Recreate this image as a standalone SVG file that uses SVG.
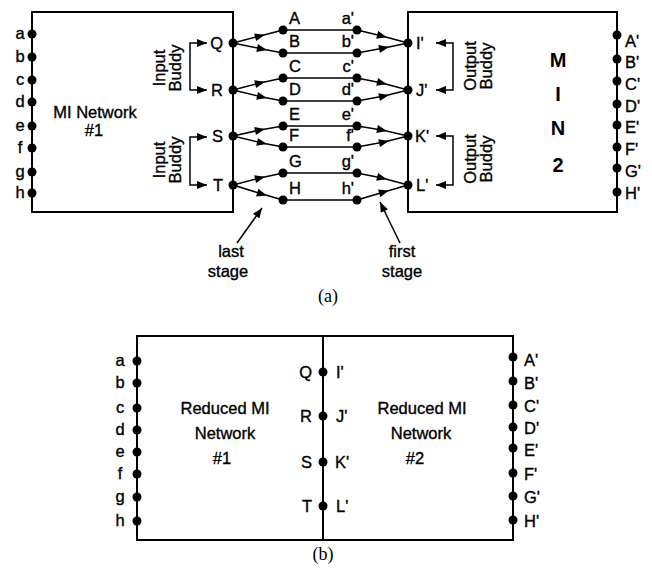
<svg xmlns="http://www.w3.org/2000/svg" width="652" height="568" viewBox="0 0 652 568">
<defs>
<style>
.box{fill:none;stroke:#000;stroke-width:2}
.ln{fill:none;stroke:#000;stroke-width:1.5}
.t{font-family:"Liberation Sans","DejaVu Sans",sans-serif;font-size:16.5px;fill:#000;stroke:#000;stroke-width:0.35}
.b{font-family:"Liberation Sans","DejaVu Sans",sans-serif;font-size:20px;font-weight:bold;fill:#000;text-anchor:middle}
.s{font-family:"Liberation Serif","DejaVu Serif",serif;font-size:18px;fill:#000;text-anchor:middle}
.m{text-anchor:middle}
.e{text-anchor:end}
circle{fill:#000}
</style>
<marker id="mid" viewBox="0 0 10 8" refX="5" refY="4" markerWidth="11" markerHeight="8" markerUnits="userSpaceOnUse" orient="auto"><path d="M0,0 L10,4 L0,8 z" fill="#000"/></marker>
<marker id="end" viewBox="0 0 10 8" refX="10" refY="4" markerWidth="11" markerHeight="8" markerUnits="userSpaceOnUse" orient="auto"><path d="M0,0 L10,4 L0,8 z" fill="#000"/></marker>
</defs>

<!-- Part (a) -->
<g id="mi1">
<rect class="box" x="32" y="12" width="201" height="200"/>
<circle cx="32" cy="34" r="4.5"/><circle cx="32" cy="57" r="4.5"/><circle cx="32" cy="80" r="4.5"/><circle cx="32" cy="102" r="4.5"/>
<circle cx="32" cy="126" r="4.5"/><circle cx="32" cy="148" r="4.5"/><circle cx="32" cy="172" r="4.5"/><circle cx="32" cy="193" r="4.5"/>
<text class="t m" x="20" y="39">a</text><text class="t m" x="20" y="62">b</text><text class="t m" x="20" y="85">c</text><text class="t m" x="20" y="107">d</text>
<text class="t m" x="20" y="131">e</text><text class="t m" x="20" y="153">f</text><text class="t m" x="20" y="177">g</text><text class="t m" x="20" y="198">h</text>
<text class="t m" x="95" y="118">MI Network</text>
<text class="t m" x="94" y="136">#1</text>
<circle cx="233" cy="43" r="4.5"/><circle cx="233" cy="90" r="4.5"/><circle cx="233" cy="136" r="4.5"/><circle cx="233" cy="185" r="4.5"/>
<text class="t e" x="223" y="49">Q</text><text class="t e" x="223" y="96">R</text><text class="t e" x="223" y="142">S</text><text class="t e" x="223" y="191">T</text>
<path class="ln" d="M205,43 H190 V90 H205" />
<path class="ln" d="M200,43 H207" marker-end="url(#end)"/>
<path class="ln" d="M200,90 H207" marker-end="url(#end)"/>
<path class="ln" d="M205,137 H190 V185 H205" />
<path class="ln" d="M200,137 H207" marker-end="url(#end)"/>
<path class="ln" d="M200,185 H207" marker-end="url(#end)"/>
<text class="t m" transform="translate(165,68) rotate(-90)">Input</text>
<text class="t m" transform="translate(181,68) rotate(-90)">Buddy</text>
<text class="t m" transform="translate(165,160) rotate(-90)">Input</text>
<text class="t m" transform="translate(181,160) rotate(-90)">Buddy</text>
</g>

<g id="min2">
<rect class="box" x="408" y="12" width="209" height="200"/>
<circle cx="408" cy="43" r="4.5"/><circle cx="408" cy="90" r="4.5"/><circle cx="408" cy="136" r="4.5"/><circle cx="408" cy="185" r="4.5"/>
<text class="t" x="416" y="49">I'</text><text class="t" x="416" y="96">J'</text><text class="t" x="415" y="142">K'</text><text class="t" x="416" y="191">L'</text>
<path class="ln" d="M440,43 H453 V90 H440"/>
<path class="ln" d="M444,43 H436" marker-end="url(#end)"/>
<path class="ln" d="M444,90 H436" marker-end="url(#end)"/>
<path class="ln" d="M440,136 H453 V185 H440"/>
<path class="ln" d="M444,136 H436" marker-end="url(#end)"/>
<path class="ln" d="M444,185 H436" marker-end="url(#end)"/>
<text class="t m" transform="translate(476,66) rotate(-90)">Output</text>
<text class="t m" transform="translate(492,66) rotate(-90)">Buddy</text>
<text class="t m" transform="translate(476,159) rotate(-90)">Output</text>
<text class="t m" transform="translate(492,159) rotate(-90)">Buddy</text>
<text class="b" x="558" y="67">M</text>
<text class="b" x="558" y="101">I</text>
<text class="b" x="558" y="135">N</text>
<text class="b" x="558" y="172">2</text>
<circle cx="617" cy="35" r="4.5"/><circle cx="617" cy="59" r="4.5"/><circle cx="617" cy="81" r="4.5"/><circle cx="617" cy="104" r="4.5"/>
<circle cx="617" cy="125" r="4.5"/><circle cx="617" cy="147" r="4.5"/><circle cx="617" cy="168" r="4.5"/><circle cx="617" cy="192" r="4.5"/>
<text class="t" x="625" y="47">A'</text><text class="t" x="625" y="68">B'</text><text class="t" x="625" y="90">C'</text><text class="t" x="625" y="112">D'</text>
<text class="t" x="625" y="133">E'</text><text class="t" x="625" y="155">F'</text><text class="t" x="625" y="177">G'</text><text class="t" x="625" y="199">H'</text>
</g>

<g id="stages">
<circle cx="283" cy="30" r="4.5"/><circle cx="283" cy="53" r="4.5"/><circle cx="283" cy="78" r="4.5"/><circle cx="283" cy="101" r="4.5"/>
<circle cx="283" cy="126" r="4.5"/><circle cx="283" cy="147" r="4.5"/><circle cx="283" cy="173" r="4.5"/><circle cx="283" cy="200" r="4.5"/>
<circle cx="357" cy="30" r="4.5"/><circle cx="357" cy="53" r="4.5"/><circle cx="357" cy="78" r="4.5"/><circle cx="357" cy="101" r="4.5"/>
<circle cx="357" cy="126" r="4.5"/><circle cx="357" cy="147" r="4.5"/><circle cx="357" cy="173" r="4.5"/><circle cx="357" cy="200" r="4.5"/>
<text class="t" x="289" y="24">A</text><text class="t" x="289" y="47">B</text><text class="t" x="289" y="72">C</text><text class="t" x="289" y="95">D</text>
<text class="t" x="289" y="120">E</text><text class="t" x="289" y="141">F</text><text class="t" x="289" y="167">G</text><text class="t" x="289" y="194">H</text>
<text class="t e" x="354" y="24">a'</text><text class="t e" x="354" y="47">b'</text><text class="t e" x="354" y="72">c'</text><text class="t e" x="354" y="95">d'</text>
<text class="t e" x="354" y="120">e'</text><text class="t e" x="354" y="141">f'</text><text class="t e" x="354" y="167">g'</text><text class="t e" x="354" y="194">h'</text>
</g>

<g id="connectors">
<path class="ln" d="M233,43 L260,36 L283,30" marker-mid="url(#mid)"/>
<path class="ln" d="M233,43 L262,49 L283,53" marker-mid="url(#mid)"/>
<path class="ln" d="M233,90 L260,83 L283,78" marker-mid="url(#mid)"/>
<path class="ln" d="M233,90 L262,97 L283,101" marker-mid="url(#mid)"/>
<path class="ln" d="M233,136 L260,130 L283,126" marker-mid="url(#mid)"/>
<path class="ln" d="M233,136 L262,143 L283,147" marker-mid="url(#mid)"/>
<path class="ln" d="M233,185 L260,178 L283,173" marker-mid="url(#mid)"/>
<path class="ln" d="M233,185 L262,194 L283,200" marker-mid="url(#mid)"/>
<path class="ln" d="M283,30 H357 M283,53 H357 M283,78 H357 M283,101 H357 M283,126 H357 M283,147 H357 M283,173 H357 M283,200 H357"/>
<path class="ln" d="M357,30 L382,36 L408,43" marker-mid="url(#mid)"/>
<path class="ln" d="M357,53 L384,48 L408,43" marker-mid="url(#mid)"/>
<path class="ln" d="M357,78 L382,83 L408,90" marker-mid="url(#mid)"/>
<path class="ln" d="M357,101 L384,96 L408,90" marker-mid="url(#mid)"/>
<path class="ln" d="M357,126 L382,130 L408,136" marker-mid="url(#mid)"/>
<path class="ln" d="M357,147 L384,142 L408,136" marker-mid="url(#mid)"/>
<path class="ln" d="M357,173 L382,178 L408,185" marker-mid="url(#mid)"/>
<path class="ln" d="M357,200 L384,192 L408,185" marker-mid="url(#mid)"/>
<path class="ln" d="M237,243 L262,208" marker-end="url(#end)"/>
<path class="ln" d="M400,243 L380,202" marker-end="url(#end)"/>
</g>

<g id="labels-a">
<text class="t m" x="231" y="257">last</text>
<text class="t m" x="228" y="277">stage</text>
<text class="t m" x="402" y="257">first</text>
<text class="t m" x="402" y="277">stage</text>
<text class="s" x="328" y="302">(a)</text>
</g>

<!-- Part (b) -->
<g id="reduced1">
<path class="box" d="M323,336 H137 V540 H323"/>
<circle cx="137" cy="361" r="4.5"/><circle cx="137" cy="383" r="4.5"/><circle cx="137" cy="408" r="4.5"/><circle cx="137" cy="430" r="4.5"/>
<circle cx="137" cy="452" r="4.5"/><circle cx="137" cy="474" r="4.5"/><circle cx="137" cy="497" r="4.5"/><circle cx="137" cy="521" r="4.5"/>
<text class="t m" x="120" y="366">a</text><text class="t m" x="120" y="388">b</text><text class="t m" x="120" y="413">c</text><text class="t m" x="120" y="435">d</text>
<text class="t m" x="120" y="457">e</text><text class="t m" x="120" y="479">f</text><text class="t m" x="120" y="502">g</text><text class="t m" x="120" y="526">h</text>
<text class="t m" x="225" y="414">Reduced MI</text>
<text class="t m" x="225" y="439">Network</text>
<text class="t m" x="222" y="464">#1</text>
</g>
<g id="reduced2">
<path class="box" d="M323,336 H513 V540 H323 Z"/>
<circle cx="513" cy="357" r="4.5"/><circle cx="513" cy="381" r="4.5"/><circle cx="513" cy="405" r="4.5"/><circle cx="513" cy="427" r="4.5"/>
<circle cx="513" cy="448" r="4.5"/><circle cx="513" cy="473" r="4.5"/><circle cx="513" cy="496" r="4.5"/><circle cx="513" cy="520" r="4.5"/>
<text class="t" x="524" y="366">A'</text><text class="t" x="524" y="389">B'</text><text class="t" x="524" y="412">C'</text><text class="t" x="524" y="434">D'</text>
<text class="t" x="524" y="456">E'</text><text class="t" x="524" y="480">F'</text><text class="t" x="524" y="503">G'</text><text class="t" x="524" y="527">H'</text>
<text class="t m" x="422" y="414">Reduced MI</text>
<text class="t m" x="421" y="439">Network</text>
<text class="t m" x="415" y="464">#2</text>
</g>
<g id="middle">
<circle cx="323" cy="372" r="4.5"/><circle cx="323" cy="416" r="4.5"/><circle cx="323" cy="462" r="4.5"/><circle cx="323" cy="506" r="4.5"/>
<text class="t e" x="312" y="378">Q</text><text class="t e" x="312" y="422">R</text><text class="t e" x="312" y="468">S</text><text class="t e" x="312" y="512">T</text>
<text class="t" x="336" y="378">I'</text><text class="t" x="336" y="422">J'</text><text class="t" x="335" y="468">K'</text><text class="t" x="336" y="512">L'</text>
<text class="s" x="323" y="560">(b)</text>
</g>
</svg>
